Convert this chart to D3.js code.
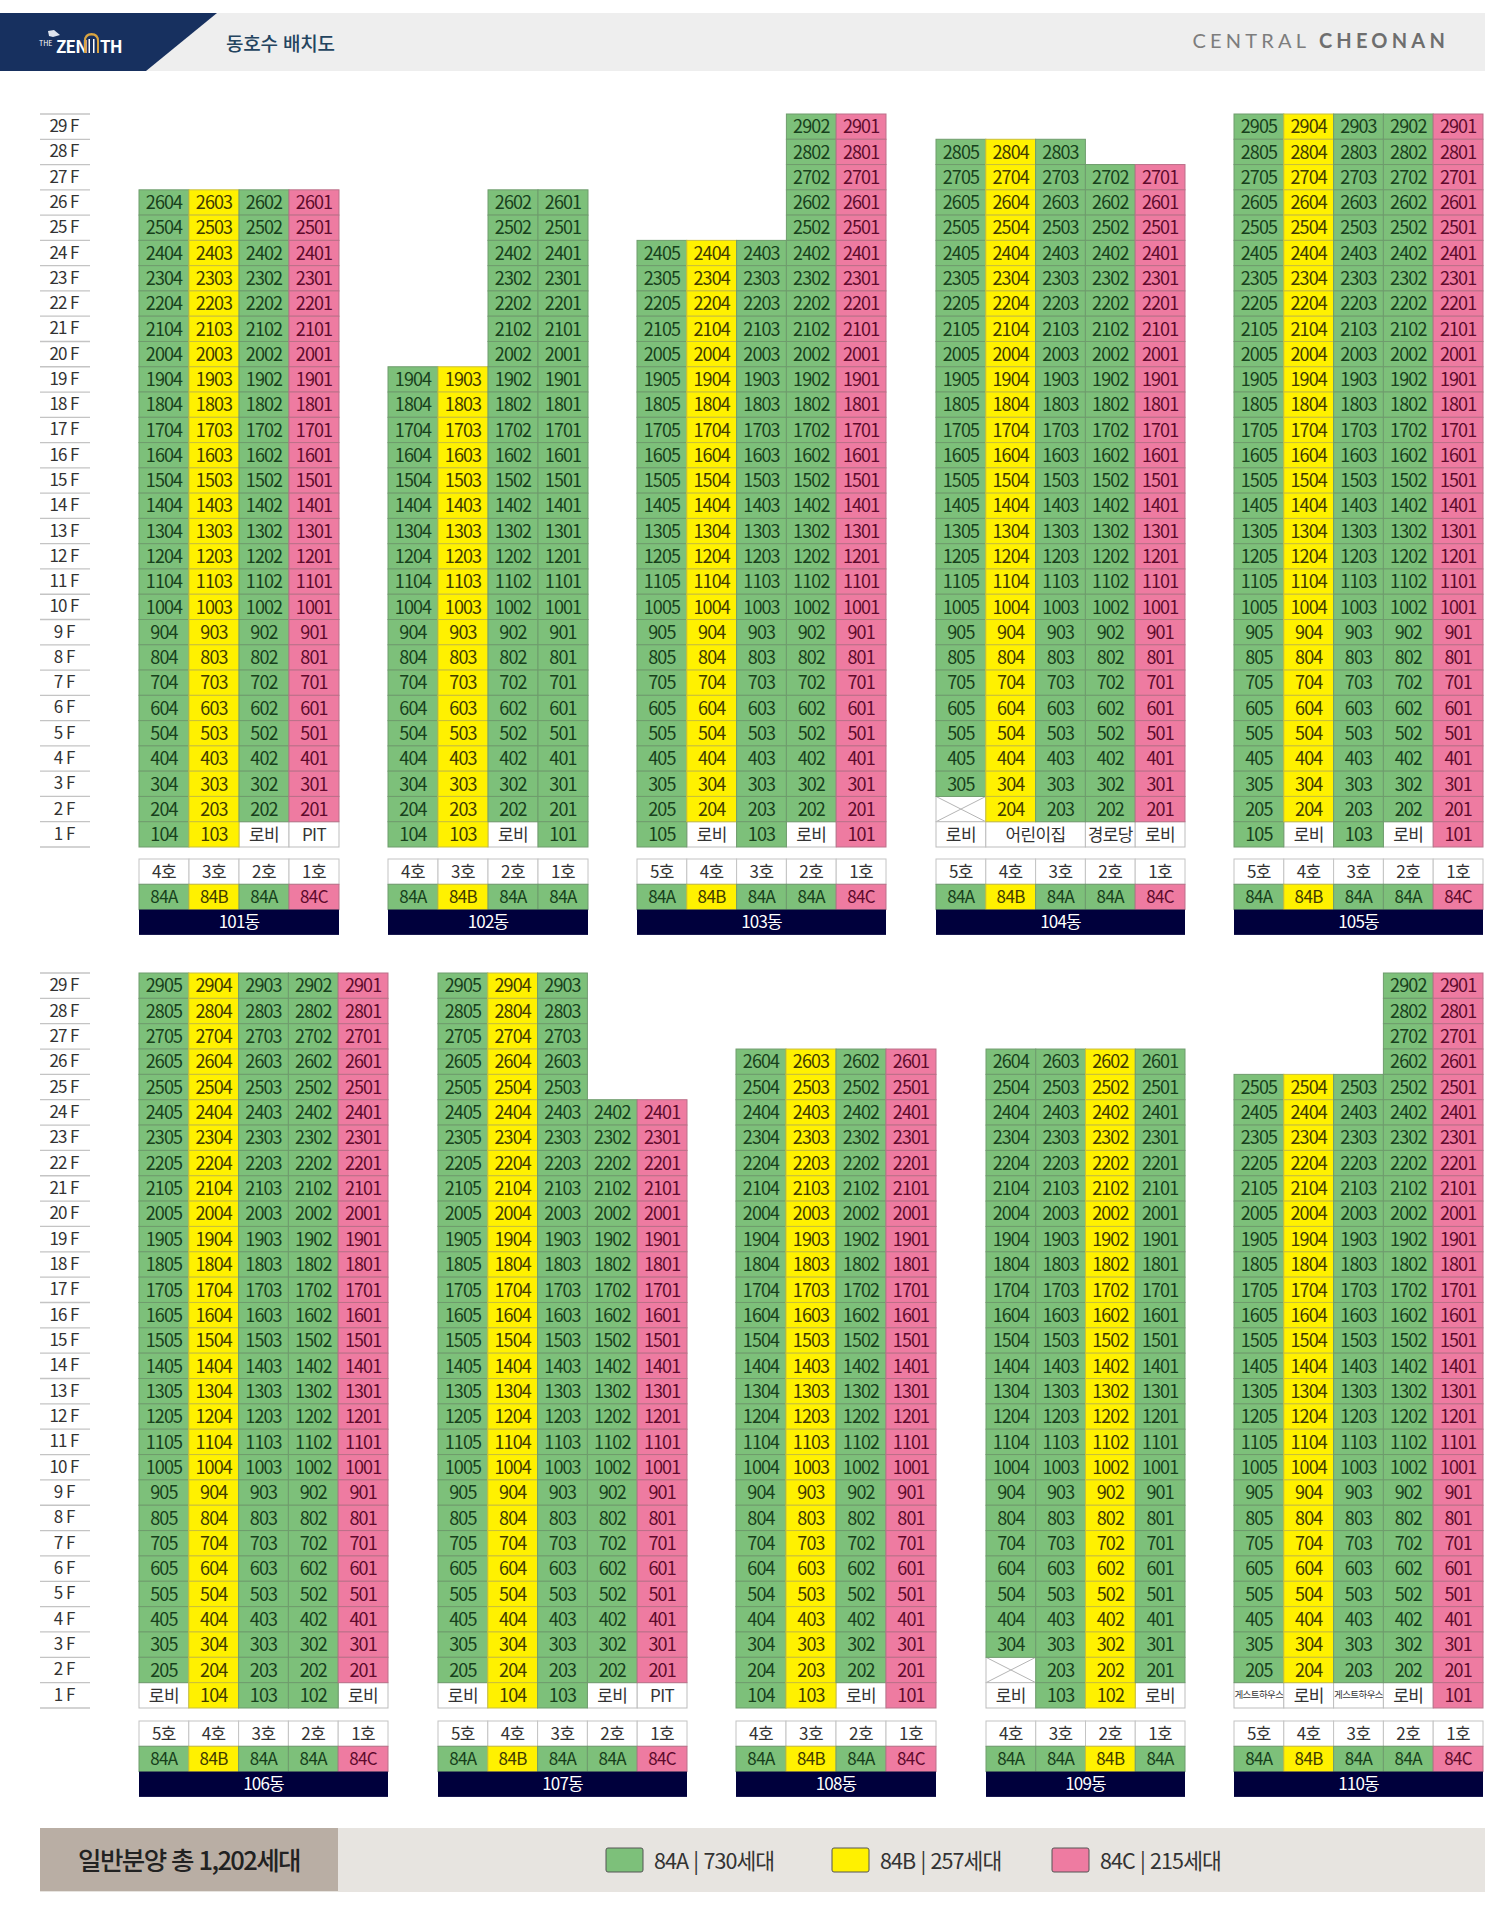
<!DOCTYPE html>
<html lang="ko">
<head>
<meta charset="utf-8">
<script src="https://cdn.jsdelivr.net/npm/d3@7"></script>
<style>
  html, body { margin: 0; background: #fff; }
  svg { display: block; }
  text { font-family: "Noto Sans CJK KR", "Noto Sans", sans-serif; }
</style>
</head>
<body>
<script>
const floors = d3.range(29, 0, -1)

const buildings = ['101동', '102동', '103동', '104동', '105동', '106동', '107동', '108동', '109동', '110동']
const units = [
  [4, 3, 2, 1], [4, 3, 2, 1], [5, 4, 3, 2, 1], [5, 4, 3, 2, 1], [5, 4, 3, 2, 1],
  [5, 4, 3, 2, 1], [5, 4, 3, 2, 1], [4, 3, 2, 1], [4, 3, 2, 1], [5, 4, 3, 2, 1]
]
const unitTypes = [
  ['84A', '84B', '84A', '84C'],
  ['84A', '84B', '84A', '84A'],
  ['84A', '84B', '84A', '84A', '84C'],
  ['84A', '84B', '84A', '84A', '84C'],
  ['84A', '84B', '84A', '84A', '84C'],
  ['84A', '84B', '84A', '84A', '84C'],
  ['84A', '84B', '84A', '84A', '84C'],
  ['84A', '84B', '84A', '84C'],
  ['84A', '84A', '84B', '84A'],
  ['84A', '84B', '84A', '84A', '84C']
]
const topFloors = [
  [26, 26, 26, 26],
  [19, 19, 26, 26],
  [24, 24, 24, 29, 29],
  [28, 28, 28, 27, 27],
  [29, 29, 29, 29, 29],
  [29, 29, 29, 29, 29],
  [29, 29, 29, 24, 24],
  [26, 26, 26, 26],
  [26, 26, 26, 26],
  [25, 25, 25, 29, 29]
]
// first floor: a room number keeps the type colour, anything else is a white cell, null = merged with the cell before
const firstFloor = [
  ['104', '103', '로비', 'PIT'],
  ['104', '103', '로비', '101'],
  ['105', '로비', '103', '로비', '101'],
  ['로비', '어린이집', null, '경로당', '로비'],
  ['105', '로비', '103', '로비', '101'],
  ['로비', '104', '103', '102', '로비'],
  ['로비', '104', '103', '로비', 'PIT'],
  ['104', '103', '로비', '101'],
  ['로비', '103', '102', '로비'],
  ['게스트하우스', '로비', '게스트하우스', '로비', '101']
]
// crossed out, no unit there: [building index, unit, floor]
const emptyCells = [[3, 5, 2], [8, 4, 2]]

const legendTypes = ['84A', '84B', '84C']
const legendCounts = ['730세대', '257세대', '215세대']
const totalLabel = '일반분양 총 1,202세대'

// layout
const width = 1493
const height = 1920
const blockX = [[139, 339], [388, 588], [637, 886], [936, 1185], [1234, 1483],
                [139, 388], [438, 687], [736, 936], [986, 1185], [1234, 1483]]
const rows = [
  { y0: 114, y1: 847, keyTop: 859 },
  { y0: 973, y1: 1708, keyTop: 1721 }
]
const keyRow = 25.3
const textLift = 1.3
const fill = { '84A': '#7dc07a', '84B': '#fff100', '84C': '#ee7ba1' }
const ink = { '84A': '#17401c', '84B': '#3f3a00', '84C': '#5e0a2c' }
const edge = { '84A': '#6f9c6d', '84B': '#c9bf3a', '84C': '#bb7089' }

const svg = d3.select('body').append('svg').attr('width', width).attr('height', height)

// header bar
svg.append('rect').attr('x', 0).attr('y', 13).attr('width', 1485).attr('height', 58).attr('fill', '#eeeeee')
svg.append('path').attr('d', 'M0,13H217L146,71H0Z').attr('fill', '#17305f')
svg.append('text').attr('x', 39).attr('y', 46).attr('font-size', 7).attr('fill', '#fff').text('THE')
svg.append('text').attr('x', 56).attr('y', 53).attr('font-size', 17).attr('font-weight', 700).attr('fill', '#fff').attr('letter-spacing', -0.8).text('ZEN')
svg.append('text').attr('x', 100).attr('y', 53).attr('font-size', 17).attr('font-weight', 700).attr('fill', '#fff').attr('letter-spacing', -0.8).text('TH')
svg.append('path').attr('d', 'M84,53V41Q84,33 91.5,33Q99,33 99,41V53H97V41Q97,35.5 91.5,35.5Q86,35.5 86,41V53Z').attr('fill', '#d9a441')
svg.append('path').attr('d', 'M88.5,39H90V53H88.5ZM93,39H94.5V53H93Z').attr('fill', '#fff')
svg.append('path').attr('d', 'M48,31L54,30L60,35L53,37L49,36Z').attr('fill', '#dfe4ee')
svg.append('text').attr('x', 226).attr('y', 42).attr('dominant-baseline', 'central').attr('font-size', 19)
  .attr('font-weight', 500).attr('fill', '#24445f').attr('letter-spacing', -0.2).text('동호수 배치도')
const brand = svg.append('text').attr('x', 1449).attr('y', 47.5).attr('text-anchor', 'end')
  .attr('font-size', 20).attr('letter-spacing', 4.2).attr('fill', '#7d7d7d').style('font-family', 'Lato')
brand.append('tspan').text('CENTRAL ')
brand.append('tspan').attr('font-weight', 700).attr('fill', '#6e6e6e').text('CHEONAN')

const scales = rows.map((r) => d3.scaleBand().domain(floors).range([r.y0, r.y1]))

// floor labels on the left
scales.forEach((y, i) => {
  const g = svg.append('g')
  g.selectAll('line').data(floors.concat([0])).enter().append('line')
    .attr('x1', 40).attr('x2', 90)
    .attr('y1', (d) => d === 0 ? rows[i].y1 : y(d))
    .attr('y2', (d) => d === 0 ? rows[i].y1 : y(d))
    .attr('stroke', '#c4c4c4').attr('stroke-width', 1.3)
  g.selectAll('text').data(floors).enter().append('text')
    .attr('x', 64).attr('y', (d) => y(d) + y.bandwidth() / 2 - 2)
    .attr('text-anchor', 'middle').attr('dominant-baseline', 'central')
    .attr('font-size', 17).attr('letter-spacing', -1).attr('fill', '#333')
    .text((d) => d + ' F')
})

function cell(g, x, y, w, h, color, stroke, label, labelColor, size) {
  g.append('rect').attr('x', x).attr('y', y).attr('width', w).attr('height', h)
    .attr('fill', color).attr('stroke', stroke).attr('stroke-width', 1)
  if (label) {
    g.append('text').attr('x', x + w / 2).attr('y', y + h / 2 - textLift)
      .attr('text-anchor', 'middle').attr('dominant-baseline', 'central')
      .attr('font-size', size || 18).attr('letter-spacing', size ? -0.6 : -0.9)
      .attr('fill', labelColor).text(label)
  }
}

buildings.forEach((name, b) => {
  const row = b < 5 ? 0 : 1
  const y = scales[row]
  const x = d3.scaleBand().domain(units[b]).range(blockX[b])
  const keyTop = rows[row].keyTop
  const g = svg.append('g').attr('class', 'block')
  const whites = g.append('g')
  const colored = g.append('g')

  units[b].forEach((u, c) => {
    const type = unitTypes[b][c]
    // upper floors
    floors.filter((f) => f > 1 && f <= topFloors[b][c]).forEach((f) => {
      const isEmpty = emptyCells.some((e) => e[0] === b && e[1] === u && e[2] === f)
      if (isEmpty) {
        cell(whites, x(u), y(f), x.bandwidth(), y.bandwidth(), '#fff', '#bdbdbd')
        whites.append('path')
          .attr('d', d3.line()([[x(u), y(f)], [x(u) + x.bandwidth(), y(f) + y.bandwidth()]]) +
                     d3.line()([[x(u), y(f) + y.bandwidth()], [x(u) + x.bandwidth(), y(f)]]))
          .attr('stroke', '#b5b5b5').attr('stroke-width', 1).attr('fill', 'none')
      } else {
        cell(colored, x(u), y(f), x.bandwidth(), y.bandwidth(), fill[type], edge[type], String(f * 100 + u), ink[type])
      }
    })

    // ground floor
    const label = firstFloor[b][c]
    if (label !== null) {
      const isRoom = /^\d+$/.test(label)
      const span = firstFloor[b][c + 1] === null ? 2 : 1
      const guest = label.length > 4
      if (isRoom) {
        cell(colored, x(u), y(1), x.bandwidth(), y.bandwidth(), fill[type], edge[type], label, ink[type])
      } else {
        cell(whites, x(u), y(1), x.bandwidth() * span, y.bandwidth(), '#fff', '#bdbdbd', label, '#333', guest ? 9.5 : 17)
      }
    }

    // key under the block
    cell(whites, x(u), keyTop, x.bandwidth(), keyRow, '#fff', '#c4c4c4', u + '호', '#333', 17)
    cell(colored, x(u), keyTop + keyRow, x.bandwidth(), keyRow, fill[type], edge[type], type, ink[type], 17)
  })

  const x0 = blockX[b][0]
  const w = blockX[b][1] - x0
  g.append('rect').attr('x', x0).attr('y', keyTop + keyRow * 2).attr('width', w).attr('height', keyRow).attr('fill', '#00003c')
  g.append('text').attr('x', x0 + w / 2).attr('y', keyTop + keyRow * 2.5 - textLift)
    .attr('text-anchor', 'middle').attr('dominant-baseline', 'central')
    .attr('font-size', 17).attr('letter-spacing', -0.8).attr('fill', '#fff').text(name)
})

// legend strip
svg.append('rect').attr('x', 40).attr('y', 1828).attr('width', 1445).attr('height', 64).attr('fill', '#e7e4e0')
svg.append('rect').attr('x', 40).attr('y', 1828).attr('width', 298).attr('height', 63).attr('fill', '#b9aea4')
svg.append('text').attr('x', 189).attr('y', 1858).attr('text-anchor', 'middle').attr('dominant-baseline', 'central')
  .attr('font-size', 25.5).attr('font-weight', 500).attr('letter-spacing', -1.6).attr('fill', '#222').text(totalLabel)

const legendX = d3.scaleOrdinal().domain(legendTypes).range([606, 832, 1052])
const legend = svg.selectAll('.legend').data(legendTypes).enter().append('g').attr('class', 'legend')
legend.append('rect')
  .attr('x', (d) => legendX(d)).attr('y', 1848).attr('width', 37).attr('height', 24).attr('rx', 2)
  .attr('fill', (d) => fill[d]).attr('stroke', '#555').attr('stroke-width', 1)
legend.append('text')
  .attr('x', (d) => legendX(d) + 48).attr('y', 1859).attr('dominant-baseline', 'central')
  .attr('font-size', 21.5).attr('letter-spacing', -0.9).attr('fill', '#333')
  .text((d, i) => d + ' | ' + legendCounts[i])
</script>
</body>
</html>
